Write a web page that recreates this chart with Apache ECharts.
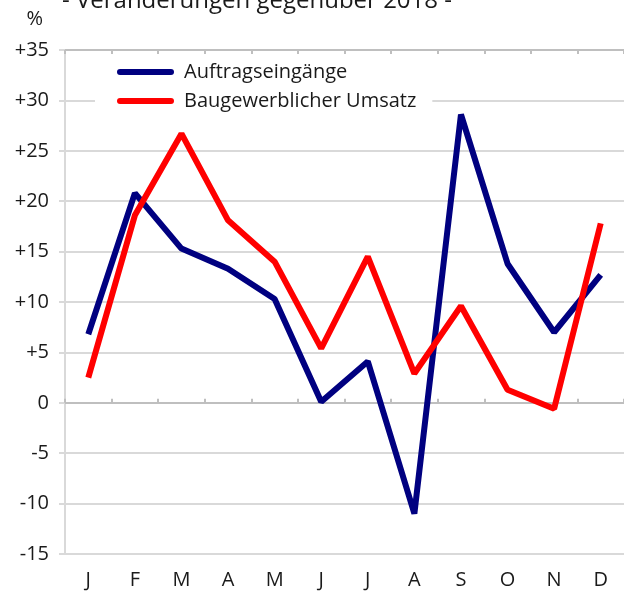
<!DOCTYPE html>
<html><head><meta charset="utf-8">
<script src="https://cdn.jsdelivr.net/npm/echarts@6/dist/echarts.min.js"></script>
<style>html,body{margin:0;padding:0;background:#fff}#c{width:624px;height:592px}</style>
</head><body><div id="c"></div>
<script>
const months = ['J','F','M','A','M','J','J','A','S','O','N','D'];
const auftrag = [6.8, 20.8, 15.3, 13.3, 10.3, 0.1, 4.1, -11.0, 28.6, 13.8, 7.0, 12.7];
const umsatz = [2.5, 18.6, 26.7, 18.1, 14.0, 5.4, 14.5, 2.9, 9.6, 1.3, -0.6, 17.8];
const yMin = -15, yMax = 35, yStep = 5;
const titleText = '- Veränderungen gegenüber 2018 -';
const FONT = '"Open Sans", "Noto Sans", sans-serif';
const TXT = '#1a1a1a';

const chart = echarts.init(document.getElementById('c'), null, {renderer:'canvas'});
const pillIcon = 'path://M3,0 L54,0 A3,3 0 0 1 54,6 L3,6 A3,3 0 0 1 3,0 Z';
const hiddenX = (inside) => ({
  type:'category', data: months, boundaryGap:true,
  axisLine:{show:true, onZero:true, lineStyle:{color:'#bfbfbf', width:2}},
  axisTick:{show:true, inside:inside, length:4, lineStyle:{color:'#bfbfbf', width:2}},
  axisLabel:{show:false}, splitLine:{show:false}
});
chart.setOption({
  animation:false,
  textStyle:{fontFamily:FONT},
  graphic:[{type:'text', left:62, top:-11, style:{text:titleText, font:'24px '+FONT, fill:TXT}}],
  grid:{left:65, right:0, top:50, bottom:38, containLabel:false},
  legend:{
    orient:'vertical', left:95, top:58, padding:[4,16,4,22],
    backgroundColor:'#fff', itemWidth:57, itemHeight:6, itemGap:9,
    textStyle:{fontSize:20, color:TXT, fontFamily:FONT, padding:[0,0,0,5]},
    data:[{name:'Auftragseingänge', icon:pillIcon},{name:'Baugewerblicher Umsatz', icon:pillIcon}]
  },
  xAxis:[
    {type:'category', data:months, boundaryGap:true, position:'bottom',
     axisLine:{show:false, onZero:false}, axisTick:{show:false},
     axisLabel:{fontSize:20, color:TXT, margin:16, fontFamily:FONT}},
    hiddenX(false), hiddenX(true)
  ],
  yAxis:{type:'value', min:yMin, max:yMax, interval:yStep,
    name:'%', nameLocation:'end', nameGap:21,
    nameTextStyle:{fontSize:20, color:TXT, align:'right', padding:[0,22,0,0], fontFamily:FONT},
    axisLine:{show:true, lineStyle:{color:'#d9d9d9', width:2}},
    axisTick:{show:true, length:6, lineStyle:{color:'#d9d9d9', width:2}},
    axisLabel:{fontSize:20, color:TXT, margin:16, fontFamily:FONT,
      formatter:v => v>0 ? '+'+v : String(v)},
    splitLine:{show:true, lineStyle:{color:'#d9d9d9', width:2}}
  },
  series:[
    {name:'Auftragseingänge', type:'line', data:auftrag, symbol:'none', z:3,
     lineStyle:{color:'#000080', width:6}, itemStyle:{color:'#000080'}},
    {name:'Baugewerblicher Umsatz', type:'line', data:umsatz, symbol:'none', z:4,
     lineStyle:{color:'#ff0000', width:6}, itemStyle:{color:'#ff0000'}}
  ]
});
</script></body></html>
